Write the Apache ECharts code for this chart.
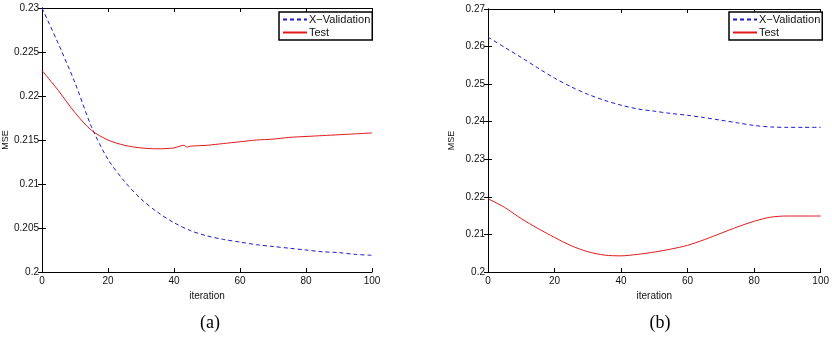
<!DOCTYPE html>
<html>
<head>
<meta charset="utf-8">
<script src="https://cdn.jsdelivr.net/npm/echarts@6/dist/echarts.min.js"></script>
<style>
  html, body { margin: 0; padding: 0; background: #fff; }
  #main { width: 832px; height: 340px; }
</style>
</head>
<body>
<div id="main"></div>
<script>
// 数据：迭代次数与 MSE
var iterA = [0, 5, 10, 15, 20, 25, 30, 35, 40, 45, 50, 55, 60, 65, 70, 75, 80, 85, 90, 95, 100];
var xvalA = [0.2300, 0.2259, 0.2215, 0.2165, 0.2128, 0.2103, 0.2083, 0.2068, 0.2056, 0.2047, 0.2041,
             0.2037, 0.2034, 0.2031, 0.2029, 0.2027, 0.2025, 0.2023, 0.2022, 0.2020, 0.2019];
var iterTestA = [0, 5, 10, 15, 20, 25, 30, 35, 40, 43, 44, 45, 50, 55, 60, 65, 70, 75, 80, 85, 90, 95, 100];
var testA = [0.2229, 0.2206, 0.2181, 0.2161, 0.2150, 0.2144, 0.2141, 0.2140, 0.2141, 0.2144, 0.2142, 0.2143,
             0.2144, 0.2146, 0.2148, 0.2150, 0.2151, 0.2153, 0.2154, 0.2155, 0.2156, 0.2157, 0.2158];

var iterB = [0, 5, 10, 15, 20, 25, 30, 35, 40, 45, 50, 55, 60, 65, 70, 75, 80, 85, 90, 95, 100];
var xvalB = [0.2625, 0.2598, 0.2571, 0.2543, 0.2516, 0.2493, 0.2473, 0.2457, 0.2444, 0.2434, 0.2428,
             0.2422, 0.2417, 0.2411, 0.2404, 0.2397, 0.2390, 0.2386, 0.2385, 0.2385, 0.2385];
var testB = [0.2195, 0.2172, 0.2142, 0.2116, 0.2092, 0.2070, 0.2054, 0.2045, 0.2043, 0.2047, 0.2053,
             0.2061, 0.2071, 0.2086, 0.2103, 0.2120, 0.2135, 0.2146, 0.2149, 0.2149, 0.2149];

var seriesNames = ['X\u2212Validation', 'Test'];
var panelLabels = ['(a)', '(b)'];

function pairs(xs, ys) {
    return xs.map(function (x, i) { return [x, ys[i]]; });
}

var font = 'Liberation Sans, Arial, sans-serif';
var axisColor = '#000';

function xAxes(gi) {
    return [
        {
            type: 'value', gridIndex: gi, min: 0, max: 100, interval: 20, position: 'bottom',
            name: 'iteration', nameLocation: 'middle', nameGap: 17,
            nameTextStyle: { fontFamily: font, fontSize: 10, color: '#111' },
            axisLine: { lineStyle: { color: axisColor, width: 1 } },
            axisTick: { inside: true, length: 4, lineStyle: { color: axisColor } },
            axisLabel: { fontFamily: font, fontSize: 10, color: '#111', margin: 4 },
            splitLine: { show: false }
        },
        {
            type: 'value', gridIndex: gi, min: 0, max: 100, interval: 20, position: 'top',
            axisLine: { lineStyle: { color: axisColor, width: 1 } },
            axisTick: { inside: true, length: 4, lineStyle: { color: axisColor } },
            axisLabel: { show: false },
            splitLine: { show: false }
        }
    ];
}

function yAxes(gi, min, max, step) {
    return [
        {
            type: 'value', gridIndex: gi, min: min, max: max, interval: step, position: 'left',
            name: 'MSE', nameLocation: 'middle', nameGap: 32,
            nameTextStyle: { fontFamily: font, fontSize: 9, color: '#111' },
            axisLine: { show: true, lineStyle: { color: axisColor, width: 1 } },
            axisTick: { show: true, inside: true, length: 4, lineStyle: { color: axisColor } },
            axisLabel: { fontFamily: font, fontSize: 10, color: '#111', margin: 3 },
            splitLine: { show: false }
        },
        {
            type: 'value', gridIndex: gi, min: min, max: max, interval: step, position: 'right',
            axisLine: { show: true, lineStyle: { color: axisColor, width: 1 } },
            axisTick: { show: true, inside: true, length: 4, lineStyle: { color: axisColor } },
            axisLabel: { show: false },
            splitLine: { show: false }
        }
    ];
}

function lineSeries(name, gi, data, color, dashed) {
    return {
        name: name,
        type: 'line',
        xAxisIndex: gi * 2,
        yAxisIndex: gi * 2,
        data: data,
        smooth: 0.3,
        symbol: 'none',
        lineStyle: { color: color, width: 1, type: dashed ? [4, 3] : 'solid' },
        itemStyle: { color: color },
        animation: false
    };
}

function legendAt(left) {
    return {
        left: left, top: 12,
        orient: 'vertical',
        data: seriesNames,
        itemWidth: 24, itemHeight: 10, itemGap: 2,
        padding: [2, 2, 2, 3],
        borderColor: '#000', borderWidth: 1.5,
        backgroundColor: '#fff',
        itemStyle: { opacity: 0 },
        textStyle: { fontFamily: font, fontSize: 11, color: '#111', padding: [0, 0, 0, -3] }
    };
}

var myChart = echarts.init(document.getElementById('main'));

option = {
    backgroundColor: '#fff',
    animation: false,
    title: [
        { text: panelLabels[0], left: 205, top: 309, textAlign: 'center',
          textStyle: { fontFamily: 'Liberation Serif, Times New Roman, serif', fontSize: 18, fontWeight: 'normal', color: '#000' } },
        { text: panelLabels[1], left: 655, top: 309, textAlign: 'center',
          textStyle: { fontFamily: 'Liberation Serif, Times New Roman, serif', fontSize: 18, fontWeight: 'normal', color: '#000' } }
    ],
    legend: [legendAt(279), legendAt(729)],
    grid: [
        { left: 38, top: 8, width: 334, height: 264 },
        { left: 488, top: 9, width: 334, height: 263 }
    ],
    xAxis: xAxes(0).concat(xAxes(1)),
    yAxis: yAxes(0, 0.2, 0.23, 0.005).concat(yAxes(1, 0.2, 0.27, 0.01)),
    series: [
        lineSeries(seriesNames[0], 0, pairs(iterA, xvalA), '#1a1ad0', true),
        lineSeries(seriesNames[1], 0, pairs(iterTestA, testA), '#e01a1a', false),
        lineSeries(seriesNames[0], 1, pairs(iterB, xvalB), '#1a1ad0', true),
        lineSeries(seriesNames[1], 1, pairs(iterB, testB), '#e01a1a', false)
    ]
};

myChart.setOption(option);
</script>
</body>
</html>
